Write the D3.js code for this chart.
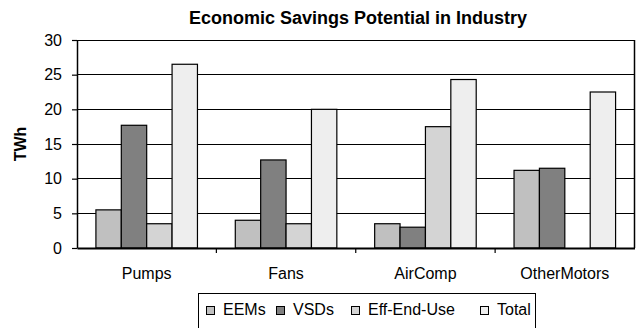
<!DOCTYPE html>
<html>
<head>
<meta charset="utf-8">
<script src="https://cdn.jsdelivr.net/npm/d3@7"></script>
<style>
  body { margin: 0; background: #fff; }
  svg { display: block; font-family: "Liberation Sans", Arial, sans-serif; }
</style>
</head>
<body>
<svg id="chart" width="636" height="328"></svg>
<script>
// Economic savings potential by end use (TWh)
const categories = ["Pumps", "Fans", "AirComp", "OtherMotors"];
const seriesNames = ["EEMs", "VSDs", "Eff-End-Use", "Total"];
const EEMs = [5.5, 4.0, 3.5, 11.2];
const VSDs = [17.7, 12.7, 3.0, 11.5];
const EffEndUse = [3.5, 3.5, 17.5, 0];
const Total = [26.5, 20.0, 24.3, 22.5];
const yTicks = [0, 5, 10, 15, 20, 25, 30];
const colors = ["#c0c0c0", "#808080", "#d4d4d4", "#eeeeee"];

const seriesValues = [EEMs, VSDs, EffEndUse, Total];
const svg = d3.select("#chart");
const m = { left: 77, right: 1.5, top: 40, bottom: 80 };
const W = 636, H = 328;
const FONT = "Liberation Sans, Arial, sans-serif";

const x = d3.scaleBand().domain(categories).range([m.left, W - m.right]);
const inner = d3.scaleBand().domain(seriesNames)
  .range([0, x.bandwidth()]).paddingOuter(0.745).paddingInner(0);
const y = d3.scaleLinear().domain([0, 30]).range([H - m.bottom, m.top]);

// title
svg.append("text")
  .attr("x", 358).attr("y", 24)
  .attr("text-anchor", "middle").attr("font-weight", "bold").attr("font-size", 18)
  .text("Economic Savings Potential in Industry");

// gridlines
svg.append("g").selectAll("line").data(yTicks.slice(1)).join("line")
  .attr("x1", m.left).attr("x2", W - m.right)
  .attr("y1", d => y(d)).attr("y2", d => y(d))
  .attr("stroke", "#000").attr("stroke-width", 1).attr("shape-rendering", "crispEdges");

// right border
svg.append("line")
  .attr("x1", W - m.right).attr("x2", W - m.right)
  .attr("y1", y(30)).attr("y2", y(0))
  .attr("stroke", "#000").attr("stroke-width", 1.5);

// bars
const rows = [];
categories.forEach((c, i) => seriesNames.forEach((s, j) => {
  if (seriesValues[j][i] > 0) rows.push({ c, s, j, v: seriesValues[j][i] });
}));
svg.append("g").selectAll("rect").data(rows).join("rect")
  .attr("x", d => x(d.c) + inner(d.s))
  .attr("width", inner.bandwidth())
  .attr("y", d => y(d.v))
  .attr("height", d => y(0) - y(d.v))
  .attr("fill", d => colors[d.j])
  .attr("stroke", "#000").attr("stroke-width", 1.2);

// y axis
const yAxis = svg.append("g").attr("transform", `translate(${m.left},0)`)
  .call(d3.axisLeft(y).tickValues(yTicks).tickSize(5).tickPadding(10).tickSizeOuter(0));
yAxis.select(".domain").attr("stroke-width", 1.5);
yAxis.selectAll("line").attr("stroke-width", 1.2);
yAxis.selectAll("text").attr("font-size", 16).attr("font-family", FONT).attr("fill", "#000");

// x axis
const xAxis = svg.append("g").attr("transform", `translate(0,${y(0)})`)
  .call(d3.axisBottom(x).tickSize(0).tickPadding(20).tickSizeOuter(0));
xAxis.select(".domain").attr("stroke-width", 2);
xAxis.selectAll("text").attr("font-size", 16).attr("font-family", FONT).attr("fill", "#000");
svg.append("g").selectAll("line").data(categories.slice(1)).join("line")
  .attr("x1", d => x(d)).attr("x2", d => x(d))
  .attr("y1", y(0)).attr("y2", y(0) + 5)
  .attr("stroke", "#000").attr("stroke-width", 1.2);

// y axis title
svg.append("text")
  .attr("transform", `translate(26,${(y(0) + y(30)) / 2}) rotate(-90)`)
  .attr("text-anchor", "middle").attr("font-weight", "bold").attr("font-size", 16)
  .text("TWh");

// legend
const lg = svg.append("g");
lg.append("rect").attr("x", 198.5).attr("y", 293.5).attr("width", 337).attr("height", 40)
  .attr("fill", "#fff").attr("stroke", "#000").attr("stroke-width", 1);
const legendX = [206, 276, 351, 480];
seriesNames.forEach((s, j) => {
  lg.append("rect").attr("x", legendX[j] + 0.5).attr("y", 306.5).attr("width", 8).attr("height", 8)
    .attr("fill", colors[j]).attr("stroke", "#000").attr("stroke-width", 1);
  lg.append("text").attr("x", legendX[j] + 17).attr("y", 315).attr("font-size", 16)
    .text(s);
});
</script>
</body>
</html>
